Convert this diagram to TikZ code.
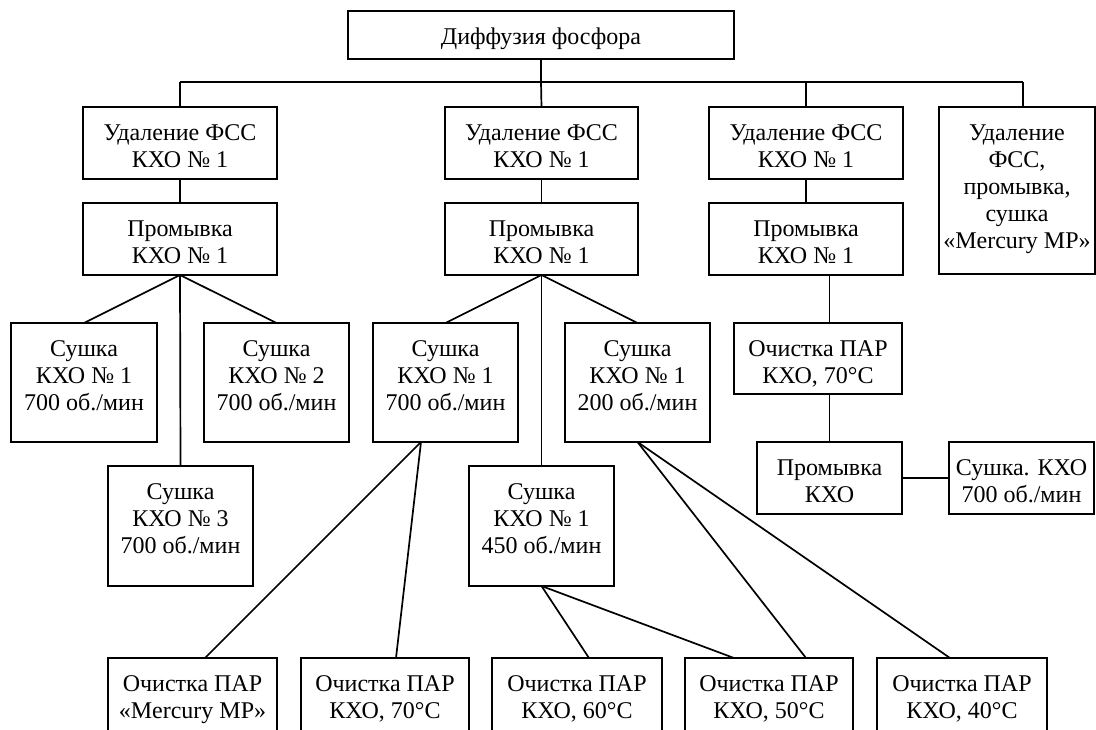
\documentclass[tikz,border=0pt]{standalone}
\usepackage{fontspec}
\setmainfont{Liberation Serif}
\tikzset{
  boxst/.style={draw, line width=2pt, inner sep=0pt, outer sep=0pt, rectangle},
  txtst/.style={font=\fontsize{24}{27}\selectfont, align=center, inner sep=0pt, anchor=north},
  con/.style={line width=1.7pt},
}
\newcommand\mybox[6]{%
  \node[boxst, minimum width={#4-#2}, minimum height={#5-#3}] (#1) at ({(#2+#4)/2},{(#3+#5)/2}) {};
  \node[txtst] (#1t) at ({(#2+#4)/2},{#3+14}) {\strut#6};
}
\begin{document}
\begin{tikzpicture}[x=1pt, y=-1pt]
\useasboundingbox (0,0) rectangle (1096,729);
\clip (0,0) rectangle (1096,729);
% top
\mybox{top}{348}{11}{734}{59}{Диффузия фосфора}
% column 1
\mybox{a1}{83}{107}{277}{179}{Удаление ФСС\\КХО № 1}
\mybox{a2}{83}{203}{277}{275}{Промывка\\КХО № 1}
\mybox{a3}{11}{323}{157}{442}{Сушка\\КХО № 1\\700 об./мин}
\mybox{a4}{204}{323}{349}{442}{Сушка\\КХО № 2\\700 об./мин}
\mybox{a5}{108}{466}{253}{586}{Сушка\\КХО № 3\\700 об./мин}
% column 2
\mybox{b1}{445}{107}{638}{179}{Удаление ФСС\\КХО № 1}
\mybox{b2}{445}{203}{638}{275}{Промывка\\КХО № 1}
\mybox{b3}{373}{323}{518}{442}{Сушка\\КХО № 1\\700 об./мин}
\mybox{b4}{565}{323}{710}{442}{Сушка\\КХО № 1\\200 об./мин}
\mybox{b5}{469}{466}{614}{586}{Сушка\\КХО № 1\\450 об./мин}
% column 3
\mybox{c1}{709}{107}{903}{179}{Удаление ФСС\\КХО № 1}
\mybox{c2}{709}{203}{903}{275}{Промывка\\КХО № 1}
\mybox{c3}{734}{323}{902}{394}{Очистка ПАР\\КХО, 70°C}
\mybox{c4}{757}{442}{902}{514}{Промывка\\КХО}
\mybox{c5}{949}{442}{1094}{514}{Сушка. КХО\\700 об./мин}
% column 4
\mybox{d1}{939}{107}{1095}{274}{Удаление\\ФСС,\\промывка,\\сушка\\«Mercury MP»}
% bottom row
\mybox{e1}{108}{658}{277}{732}{Очистка ПАР\\«Mercury MP»}
\mybox{e2}{301}{658}{469}{732}{Очистка ПАР\\КХО, 70°C}
\mybox{e3}{492}{658}{662}{732}{Очистка ПАР\\КХО, 60°C}
\mybox{e4}{685}{658}{853}{732}{Очистка ПАР\\КХО, 50°C}
\mybox{e5}{877}{658}{1047}{732}{Очистка ПАР\\КХО, 40°C}
% bus
\coordinate (busL) at (180,82);
\coordinate (busR) at (1023,82);
\draw[con] (top.south) -- (top.south |- busL);
\draw[con] (a1.north |- busL) -- (busR);
\draw[con] (a1.north |- busL) -- (a1.north);
\draw[con] (top.south |- busL) -- (b1.north);
\draw[con] (busL -| c1.north) -- (c1.north);
\draw[con] (busR) -- (busR |- d1.north);
% column 1
\draw[con] (a1.south) -- (a2.north);
\draw[con] (a2.south) -- (a3.north);
\draw[con] (a2.south) -- (a4.north);
\draw[con] (a2.south) -- (a5.north);
% column 2
\draw[con] (b1.south) -- (b2.north);
\draw[con] (b2.south) -- (b3.north);
\draw[con] (b2.south) -- (b4.north);
\draw[con] (b2.south) -- (b5.north);
\draw[con] ([xshift=-24.5pt]b3.south) -- ([xshift=12.5pt]e1.north);
\draw[con] ([xshift=-24.5pt]b3.south) -- ([xshift=11pt]e2.north);
\draw[con] (b5.south) -- ([xshift=12pt]e3.north);
\draw[con] (b5.south) -- ([xshift=-35pt]e4.north);
\draw[con] (b4.south) -- ([xshift=37pt]e4.north);
\draw[con] (b4.south) -- ([xshift=-12pt]e5.north);
% column 3
\draw[con] (c1.south) -- (c2.north);
\draw[con] (c2.south -| c4.north) -- (c3.north -| c4.north);
\draw[con] (c3.south -| c4.north) -- (c4.north);
\draw[con] (c4.east) -- (c5.west);
\end{tikzpicture}
\end{document}
